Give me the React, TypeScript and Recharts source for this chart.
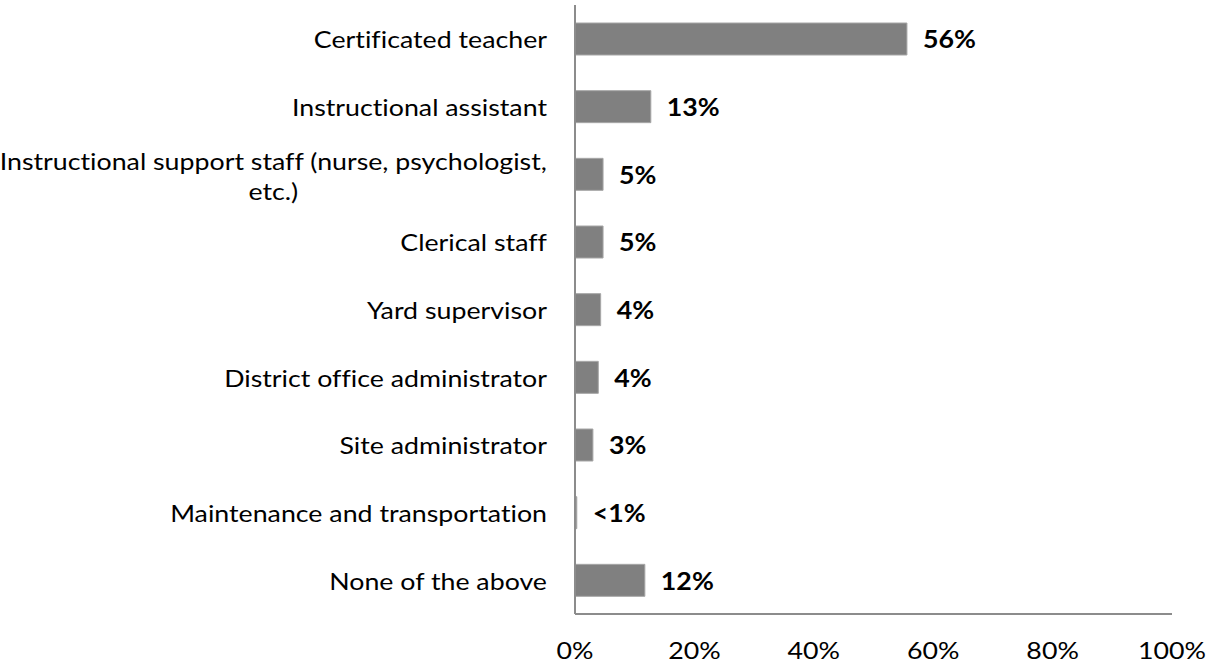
import React from "react";
import { Bar, BarChart, LabelList, XAxis, YAxis } from "recharts";

const categories = [
  "Certificated teacher",
  "Instructional assistant",
  "Instructional support staff (nurse, psychologist, etc.)",
  "Clerical staff",
  "Yard supervisor",
  "District office administrator",
  "Site administrator",
  "Maintenance and transportation",
  "None of the above",
];
const shares = [55.6, 12.7, 4.7, 4.7, 4.3, 3.9, 3.0, 0.3, 11.7];
const shareLabels = ["56%", "13%", "5%", "5%", "4%", "4%", "3%", "<1%", "12%"];
const xTicks = [0, 20, 40, 60, 80, 100];

const FONT = "Lato, 'Open Sans', sans-serif";
const FONT_SIZE = 24;
// the source text is a little wider than plain Lato
const STRETCH = 1.115;
const AXIS_GREY = "#8c8c8c";
const noLiga = { fontVariantLigatures: "none" as const };

const data = categories.map((name, i) => ({
  name,
  value: shares[i],
  label: shareLabels[i],
}));

// measure text with canvas so wrapped lines can be centred on each other
let ctx: CanvasRenderingContext2D | null = null;
function textWidth(s: string) {
  if (!ctx) ctx = document.createElement("canvas").getContext("2d");
  if (!ctx) return s.length * FONT_SIZE * 0.5 * STRETCH;
  ctx.font = `${FONT_SIZE}px Lato`;
  return ctx.measureText(s).width * STRETCH;
}

function wrap(label: string, maxWidth: number) {
  const words = label.split(" ");
  const lines: string[] = [];
  let cur = "";
  for (const w of words) {
    const next = cur ? `${cur} ${w}` : w;
    if (cur && textWidth(next) > maxWidth) {
      lines.push(cur);
      cur = w;
    } else {
      cur = next;
    }
  }
  if (cur) lines.push(cur);
  return lines;
}

// text drawn at (x, y) and widened horizontally around that point
const Wide = ({ x, y, children, ...rest }: any) => (
  <text
    transform={`translate(${x},${y}) scale(${STRETCH},1)`}
    fontFamily={FONT}
    fontSize={FONT_SIZE}
    fill="#000"
    style={noLiga}
    {...rest}
  >
    {children}
  </text>
);

const CategoryTick = (props: any) => {
  const { x, y, payload } = props;
  const right = x - 28;
  const lines = wrap(payload.value, 565);
  if (lines.length === 1) {
    return (
      <Wide x={right} y={y} textAnchor="end" dominantBaseline="central">
        {lines[0]}
      </Wide>
    );
  }
  const widest = Math.max(...lines.map(textWidth));
  const cx = right - widest / 2;
  const lh = 30;
  const top = y - ((lines.length - 1) * lh) / 2 + 1;
  return (
    <g>
      {lines.map((l, i) => (
        <Wide key={i} x={cx} y={top + i * lh} textAnchor="middle" dominantBaseline="central">
          {l}
        </Wide>
      ))}
    </g>
  );
};

const PercentTick = (props: any) => {
  const { x, y, payload } = props;
  return (
    <Wide x={x} y={y + 28} dy="0.71em" textAnchor="middle">
      {`${payload.value}%`}
    </Wide>
  );
};

const ValueLabel = (props: any) => {
  const { x, y, width, height, index } = props;
  return (
    <Wide x={x + width + 16} y={y + height / 2} dominantBaseline="central" fontWeight="bold">
      {shareLabels[index]}
    </Wide>
  );
};

export default function App() {
  return (
    <div style={{ position: "absolute", left: 0, top: 0, width: 1215, height: 668, background: "#fff" }}>
      <BarChart
        width={1215}
        height={668}
        data={data}
        layout="vertical"
        margin={{ top: 5, right: 43, bottom: 0, left: 0 }}
      >
        <XAxis
          type="number"
          domain={[0, 100]}
          ticks={xTicks}
          height={54}
          tickLine={false}
          tickSize={0}
          tickMargin={0}
          axisLine={{ stroke: AXIS_GREY, strokeWidth: 2 }}
          tick={<PercentTick />}
          interval={0}
        />
        <YAxis
          type="category"
          dataKey="name"
          width={575}
          tickLine={false}
          tickSize={0}
          tickMargin={0}
          axisLine={{ stroke: AXIS_GREY, strokeWidth: 2 }}
          tick={<CategoryTick />}
          interval={0}
        />
        <Bar dataKey="value" fill="#808080" stroke="#a6a6a6" strokeWidth={1} barSize={32} isAnimationActive={false}>
          <LabelList dataKey="label" content={<ValueLabel />} />
        </Bar>
      </BarChart>
    </div>
  );
}
